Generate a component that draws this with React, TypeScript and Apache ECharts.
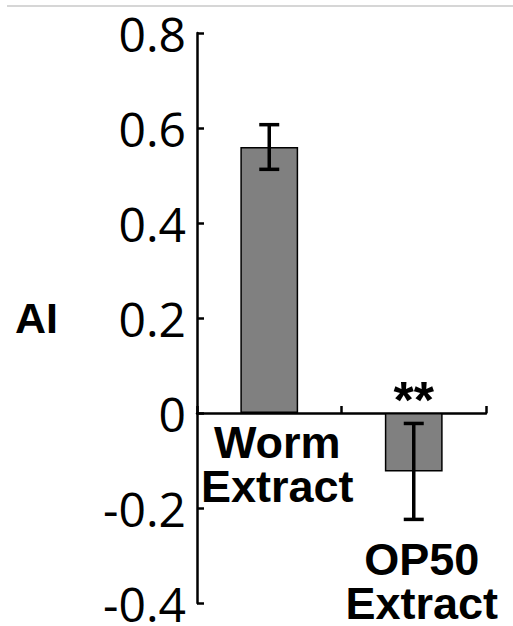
import React, { useEffect, useRef } from "react";
import * as echarts from "echarts";

const categories = ["Worm\nExtract", "OP50\nExtract"];
const means = [0.56, -0.123];
const errors = [0.047, 0.101];
const significance = ["", "**"];
const yTicks = { min: -0.4, max: 0.8, interval: 0.2 };

export default function App() {
  const ref = useRef<HTMLDivElement>(null);
  useEffect(() => {
    if (!ref.current) return;
    const chart = echarts.init(ref.current, null, { renderer: "svg" });
    const errData = means.map((m, i) => [i, m - errors[i], m + errors[i], m]);
    chart.setOption({
      animation: false,
      backgroundColor: "#ffffff",
      grid: { left: 197, right: 27, top: 33, bottom: 23, containLabel: false, outerBoundsMode: "none" },
      graphic: [
        {
          type: "line",
          shape: { x1: 7, y1: 6, x2: 513, y2: 6 },
          style: { stroke: "#c8c8c8", lineWidth: 1.5 },
          silent: true,
        },
      ],
      xAxis: {
        type: "category",
        data: categories,
        axisLine: { onZero: true, lineStyle: { color: "#000", width: 2.5 } },
        axisTick: { show: true, inside: true, length: 7, alignWithLabel: false, lineStyle: { color: "#000", width: 2.5 } },
        axisLabel: { show: false },
      },
      yAxis: {
        type: "value",
        min: yTicks.min,
        max: yTicks.max,
        interval: yTicks.interval,
        name: "AI",
        nameLocation: "middle",
        nameRotate: 0,
        nameGap: 139,
        nameTextStyle: {
          fontFamily: "Liberation Sans, Arial, sans-serif",
          fontWeight: "bold",
          fontSize: 43,
          color: "#000",
          align: "right",
          verticalAlign: "middle",
        },
        splitLine: { show: false },
        axisLine: { show: true, lineStyle: { color: "#000", width: 2.5 } },
        axisTick: { show: true, inside: true, length: 7, lineStyle: { color: "#000", width: 2.5 } },
        axisLabel: {
          margin: 11,
          fontFamily: "Open Sans, Noto Sans, sans-serif",
          fontSize: 48,
          color: "#000",
          formatter: (v: number) => (Math.abs(v) < 1e-9 ? "0" : v.toFixed(1)),
        },
      },
      series: [
        {
          type: "bar",
          data: means,
          barWidth: "40%",
          itemStyle: { color: "#808080", borderColor: "#000", borderWidth: 1.5 },
        },
        {
          type: "custom",
          data: errData,
          z: 10,
          clip: false,
          renderItem: (params: any, api: any) => {
            const i = api.value(0);
            const lo = api.coord([i, api.value(1)]);
            const hi = api.coord([i, api.value(2)]);
            const zero = api.coord([i, 0]);
            const hw = 10;
            const st = { stroke: "#000", lineWidth: 3.5 };
            const children: any[] = [
              { type: "line", shape: { x1: hi[0], y1: hi[1], x2: lo[0], y2: lo[1] }, style: st },
              { type: "line", shape: { x1: hi[0] - hw, y1: hi[1], x2: hi[0] + hw, y2: hi[1] }, style: st },
              { type: "line", shape: { x1: lo[0] - hw, y1: lo[1], x2: lo[0] + hw, y2: lo[1] }, style: st },
            ];
            const s = significance[params.dataIndex];
            if (s) {
              children.push({
                type: "text",
                style: {
                  text: s,
                  x: zero[0],
                  y: zero[1] - 13,
                  align: "center",
                  verticalAlign: "middle",
                  fontFamily: "Liberation Sans, Arial, sans-serif",
                  fontWeight: "bold",
                  fontSize: 52,
                  fill: "#000",
                },
              });
            }
            // category label, below the lowest mark of the category
            const lowest = Math.max(zero[1], lo[1]);
            const gap = lo[1] > zero[1] ? 18 : 7;
            children.push({
              type: "text",
              style: {
                text: categories[params.dataIndex],
                x: zero[0] + 8,
                y: lowest + gap,
                align: "center",
                verticalAlign: "top",
                fontFamily: "Liberation Sans, Arial, sans-serif",
                fontWeight: "bold",
                fontSize: 45,
                lineHeight: 44,
                fill: "#000",
              },
            });
            return { type: "group", children };
          },
        },
      ],
    });
    return () => chart.dispose();
  }, []);
  return (
    <div
      ref={ref}
      style={{ position: "fixed", left: 0, top: 0, width: 513, height: 626, background: "#fff" }}
    />
  );
}
